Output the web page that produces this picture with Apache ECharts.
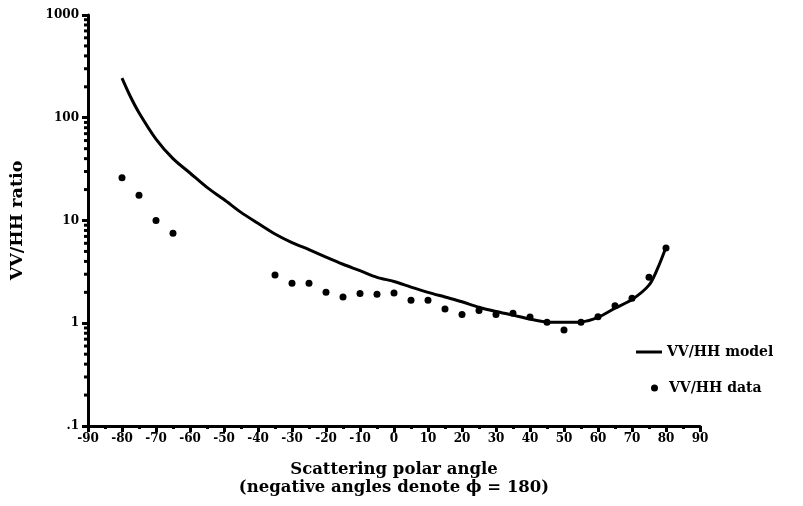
<!DOCTYPE html>
<html><head><meta charset="utf-8">
<script src="https://cdn.jsdelivr.net/npm/echarts@6/dist/echarts.min.js"></script>
<style>html,body{margin:0;padding:0;background:#fff}#c{width:803px;height:506px}</style>
</head><body><div id="c"></div>
<script>
// Model curve (angle, VV/HH ratio)
const modelAngles = [-80,-77.5,-75,-70,-65,-60,-55,-50,-45,-40,-35,-30,-25,-20,-15,-10,-5,0,5,10,15,20,25,30,35,40,45,50,55,60,65,70,75,77.5,80];
const modelValues = [243,160,112,62,40,29,21,16,12,9.4,7.4,6.1,5.2,4.4,3.75,3.25,2.8,2.55,2.25,2.0,1.8,1.62,1.43,1.3,1.2,1.1,1.03,1.02,1.03,1.14,1.4,1.7,2.35,3.4,5.5];
// Measured data
const dataAngles = [-80,-75,-70,-65,-35,-30,-25,-20,-15,-10,-5,0,5,10,15,20,25,30,35,40,45,50,55,60,65,70,75,80];
const dataValues = [26,17.6,10,7.5,2.95,2.45,2.45,2.0,1.8,1.95,1.92,1.97,1.67,1.67,1.38,1.22,1.33,1.22,1.25,1.15,1.02,0.86,1.02,1.16,1.48,1.75,2.8,5.4];
// Axis labels
const yTickLabels = {0.1:'.1', 1:'1', 10:'10', 100:'100', 1000:'1000'};
const minorLogTicks = [];
[0.1,1,10,100].forEach(d => { for (let k = 2; k <= 9; k++) minorLogTicks.push(+(k*d).toPrecision(3)); });

const font = '"DejaVu Serif", "Liberation Serif", serif';
const chart = echarts.init(document.getElementById('c'));
chart.setOption({
  animation: false,
  backgroundColor: '#fff',
  grid: {left: 88, right: 103, top: 15, bottom: 80, containLabel: false},
  xAxis: {
    type: 'value', min: -90, max: 90, interval: 10,
    name: 'Scattering polar angle\n(negative angles denote \u03d5 = 180)',
    nameLocation: 'middle', nameGap: 35,
    nameTextStyle: {fontFamily: font, fontWeight: 'bold', fontSize: 16.5, color: '#000', lineHeight: 18},
    axisLine: {onZero: false, lineStyle: {color: '#000', width: 3}},
    axisTick: {show: true, length: 6, inside: false, lineStyle: {color: '#000', width: 3}},
    minorTick: {show: true, splitNumber: 2, length: 3, lineStyle: {color: '#000', width: 3}},
    splitLine: {show: false},
    axisLabel: {fontFamily: font, fontWeight: 'bold', fontSize: 12, color: '#000', margin: 7}
  },
  yAxis: {
    type: 'log', min: 0.1, max: 1000, logBase: 10,
    name: 'VV/HH ratio', nameLocation: 'middle', nameGap: 62, nameRotate: 90,
    nameTextStyle: {fontFamily: font, fontWeight: 'bold', fontSize: 17.5, color: '#000', padding: [0, 0, 0, 0]},
    axisLine: {onZero: false, lineStyle: {color: '#000', width: 3}},
    axisTick: {show: true, length: 6, lineStyle: {color: '#000', width: 3}},
    splitLine: {show: false},
    axisLabel: {fontFamily: font, fontWeight: 'bold', fontSize: 12, color: '#000', margin: 9,
      formatter: v => yTickLabels[+v.toPrecision(3)] || ''}
  },
  legend: [
    {left: 631, top: 340, orient: 'vertical', itemWidth: 26, itemHeight: 3,
     data: [{name: 'VV/HH model', icon: 'rect'}],
     itemStyle: {color: '#000'},
     textStyle: {fontFamily: font, fontWeight: 'bold', fontSize: 14, color: '#000'}},
    {left: 646, top: 376, orient: 'vertical', itemWidth: 7, itemHeight: 7,
     data: [{name: 'VV/HH data', icon: 'circle'}],
     itemStyle: {color: '#000'},
     textStyle: {fontFamily: font, fontWeight: 'bold', fontSize: 14, color: '#000', padding: [0,0,0,6]}}
  ],
  series: [
    {name: 'VV/HH model', type: 'line', symbol: 'none', smooth: 0.3,
     itemStyle: {color: '#000'},
     lineStyle: {color: '#000', width: 3},
     data: modelAngles.map((a, i) => [a, modelValues[i]])},
    {name: 'VV/HH data', type: 'scatter', symbol: 'circle', symbolSize: 7,
     itemStyle: {color: '#000', opacity: 1},
     data: dataAngles.map((a, i) => [a, dataValues[i]])},
    {name: 'minor', type: 'custom', silent: true, clip: false,
     data: minorLogTicks.map(v => [-90, v]),
     renderItem: (params, api) => {
       const p = api.coord([api.value(0), api.value(1)]);
       return {type: 'line', shape: {x1: p[0] - 4, y1: p[1], x2: p[0], y2: p[1]},
               style: {stroke: '#000', lineWidth: 3}};
     }}
  ]
});
</script></body></html>
